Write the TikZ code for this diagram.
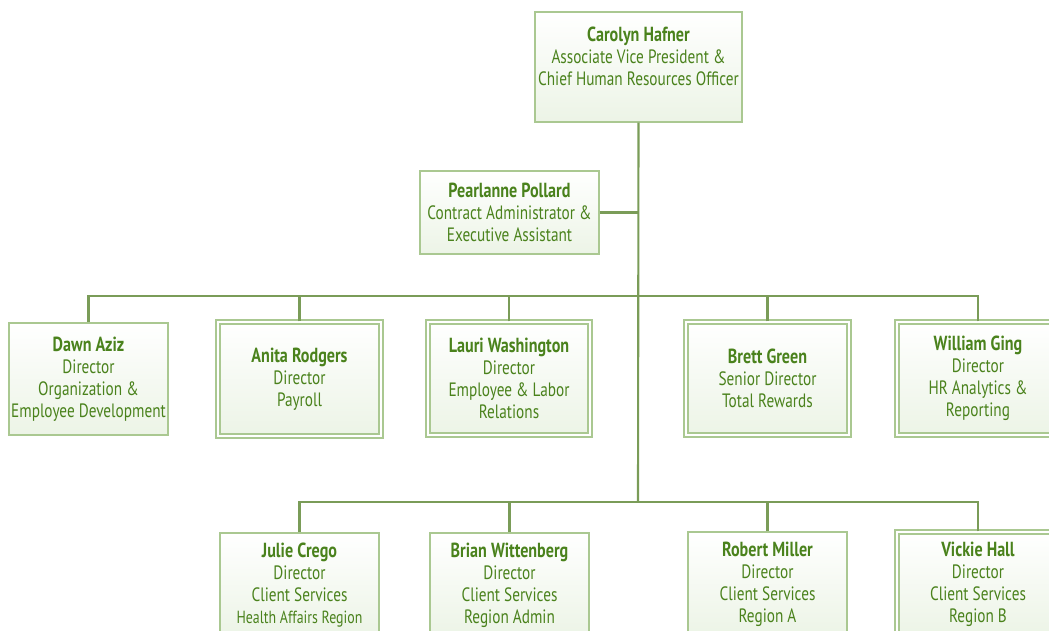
\documentclass[tikz,border=0pt]{standalone}
\usepackage{fontspec}
\setmainfont[FakeStretch=0.79]{PT Sans}
\usepackage{tikz}
\usetikzlibrary{calc}

\definecolor{hrtext}{RGB}{74,130,28}
\definecolor{hrline}{RGB}{122,156,88}
\definecolor{hrframe}{RGB}{170,200,145}
\definecolor{hrfill}{RGB}{236,244,230}

\newcommand{\who}[1]{{\fontsize{11.6}{12.5}\selectfont\bfseries #1}}

\tikzset{
	box/.style={draw=hrframe, line width=0.8pt, top color=white, bottom color=hrfill,
		align=center, inner sep=0pt, text=hrtext,
		font=\fontsize{11}{12.5}\selectfont},
	dbox/.style={box, double=white, double distance=1.6pt},
	link/.style={draw=hrline, line width=1.2pt}
}

\begin{document}
\begin{tikzpicture}[x=0.02cm, y=-0.02cm]
		\useasboundingbox (0,0) rectangle (1049,631);
		\clip (0,0) rectangle (1049,631);
		% top
		\node[box, minimum width=4.14cm, minimum height=2.2cm] (hafner) at (638.5,67)
			{\who{Carolyn Hafner}\\ Associate Vice President \&\\ Chief Human Resources Officer\\ \mbox{}};
		\node[box, minimum width=3.58cm, minimum height=1.66cm] (pollard) at (509.5,212.5)
			{\who{Pearlanne Pollard}\\ Contract Administrator \&\\ Executive Assistant};
		\coordinate (busA) at (638,296);
		\coordinate (busB) at (638,502);
%		\draw[step=10, very thin, gray] (0,0) grid (1049,631);
		% directors
		\node[box, minimum width=3.18cm, minimum height=2.24cm] (aziz) at (88.5,379)
			{\who{Dawn Aziz}\\ Director\\ Organization \&\\ Employee Development};
		\node[dbox, minimum width=3.26cm, minimum height=2.28cm] (rodgers) at (299.5,379)
			{\who{Anita Rodgers}\\ Director\\ Payroll};
		\node[dbox, minimum width=3.24cm, minimum height=2.26cm] (washington) at (509,378.5)
			{\who{Lauri Washington}\\ Director\\ Employee \& Labor\\ Relations};
		\node[dbox, minimum width=3.26cm, minimum height=2.26cm] (green) at (767.5,378.5)
			{\who{Brett Green}\\ Senior Director\\ Total Rewards};
		\node[dbox, minimum width=3.24cm, minimum height=2.26cm] (ging) at (978,378.5)
			{\who{William Ging}\\ Director\\ HR Analytics \&\\ Reporting};
		% client services
		\node[box, minimum width=3.18cm, minimum height=2.08cm] (crego) at (299.5,585)
			{\who{Julie Crego}\\ Director\\ Client Services\\ {\fontsize{10}{12.5}\selectfont Health Affairs Region}};
		\node[box, minimum width=3.18cm, minimum height=2.08cm] (wittenberg) at (509.5,585)
			{\who{Brian Wittenberg}\\ Director\\ Client Services\\ Region Admin};
		\node[box, minimum width=3.18cm, minimum height=2.08cm] (miller) at (767.5,584)
			{\who{Robert Miller}\\ Director\\ Client Services\\ Region A};
		\node[dbox, minimum width=3.24cm, minimum height=2.08cm] (hall) at (978,584)
			{\who{Vickie Hall}\\ Director\\ Client Services\\ Region B};
		% lines
		\draw[link] (hafner.south) -- (busB);
		\draw[link] (pollard.east) -- (pollard.east -| hafner.south);
		\draw[link] (aziz.north) |- (busA);
		\draw[link] (rodgers.north) |- (busA);
		\draw[link] (washington.north) |- (busA);
		\draw[link] (green.north) |- (busA);
		\draw[link] (ging.north) |- (busA);
		\draw[link] (crego.north) |- (busB);
		\draw[link] (wittenberg.north) |- (busB);
		\draw[link] (miller.north) |- (busB);
		\draw[link] (hall.north) |- (busB);
	\end{tikzpicture}
\end{document}
